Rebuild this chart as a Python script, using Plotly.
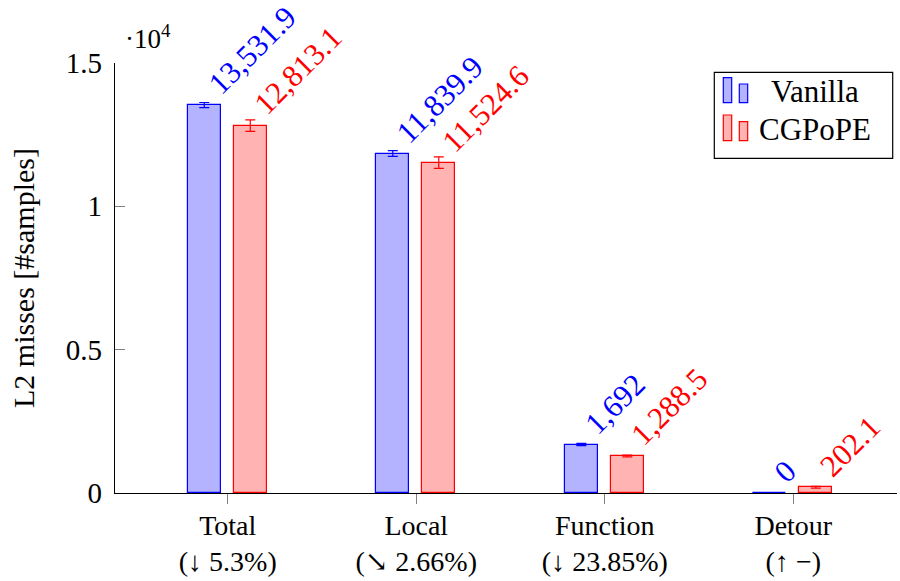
import plotly.graph_objects as go

categories = ["Total", "Local", "Function", "Detour"]
changes = ["(↓ 5.3%)", "(↘ 2.66%)", "(↓ 23.85%)", "(↑ −)"]
vanilla = [13531.9, 11839.9, 1692.0, 0.0]
vanilla_err = [90, 100, 40, 0]
cgpope = [12813.1, 11524.6, 1288.5, 202.1]
cgpope_err = [200, 200, 30, 30]
y_tickvals = [0, 5000, 10000, 15000]
y_ticktext = ["0", "0.5", "1", "1.5"]

FONT = "Liberation Serif, Times New Roman, DejaVu Serif, serif"
W, H = 900, 581
ML, MR, MT, MB = 115, 3, 63, 88
PW, PH = W - ML - MR, H - MT - MB

BAR_W = 0.175
series = [
    ("Vanilla", vanilla, vanilla_err, -0.212, "rgb(179,179,255)", "rgb(0,0,255)"),
    ("CGPoPE", cgpope, cgpope_err, 0.032, "rgb(255,179,179)", "rgb(255,0,0)"),
]


def fmt(v):
    if float(v).is_integer():
        return f"{int(v):,}"
    return f"{v:,.1f}"


fig = go.Figure()
idx = list(range(len(categories)))
annotations = []
for name, vals, errs, off, fill, edge in series:
    fig.add_trace(go.Bar(
        x=idx, y=vals, name=name, width=BAR_W, offset=off,
        marker=dict(color=fill, line=dict(color=edge, width=1.2)),
        error_y=dict(type="data", array=errs, color=edge, thickness=1.2, width=5),
        showlegend=False,
    ))
    for i, v in zip(idx, vals):
        annotations.append(dict(
            x=i + off + BAR_W / 2, y=v, xref="x", yref="y",
            text=fmt(v), textangle=-45, showarrow=False,
            xanchor="left", yanchor="bottom", xshift=-6, yshift=1,
            font=dict(family=FONT, size=31, color=edge),
        ))

# multiplier label
annotations.append(dict(
    x=8 / PW, y=(H - MB - 56) / PH, xref="paper", yref="paper",
    text="·10<sup>4</sup>", showarrow=False, xanchor="left", yanchor="bottom",
    font=dict(family=FONT, size=27, color="black"),
))


def px(x):
    return (x - ML) / PW


def py(y):
    return (H - MB - y) / PH


shapes = [dict(type="rect", xref="paper", yref="paper",
               x0=px(714.3), x1=px(892.7), y0=py(158.3), y1=py(72.3),
               line=dict(color="black", width=1.2), fillcolor="white", layer="above")]
legend_rows = [(series[0], 77.7, 84.0, 102.7, 92.0), (series[1], 115.0, 121.7, 140.7, 129.0)]
for (name, _, _, _, fill, edge), t1, t2, b, tc in legend_rows:
    shapes.append(dict(type="rect", xref="paper", yref="paper",
                       x0=px(723.3), x1=px(731.7), y0=py(b), y1=py(t1),
                       line=dict(color=edge, width=1.2), fillcolor=fill, layer="above"))
    shapes.append(dict(type="rect", xref="paper", yref="paper",
                       x0=px(739.3), x1=px(747.7), y0=py(b), y1=py(t2),
                       line=dict(color=edge, width=1.2), fillcolor=fill, layer="above"))
    annotations.append(dict(x=px(815), y=py(tc), xref="paper", yref="paper",
                            text=name, showarrow=False, xanchor="center", yanchor="middle",
                            font=dict(family=FONT, size=31, color="black")))

fig.update_layout(
    width=W, height=H,
    margin=dict(l=ML, r=MR, t=MT, b=MB, pad=0, autoexpand=False),
    paper_bgcolor="white", plot_bgcolor="white",
    font=dict(family=FONT, size=30, color="black"),
    xaxis=dict(
        range=[-0.598, 3.55], tickvals=idx,
        ticktext=[f"{c}<br>{ch}" for c, ch in zip(categories, changes)],
        showline=True, linecolor="black", linewidth=1.2,
        ticks="outside", ticklen=10, tickcolor="gray", tickwidth=1,
        showgrid=False, zeroline=False, automargin=False,
        ticklabelstandoff=-3,
        tickfont=dict(family=FONT, size=28, color="black"),
    ),
    yaxis=dict(
        range=[0, 15000], tickvals=y_tickvals, ticktext=y_ticktext,
        showline=True, linecolor="black", linewidth=1.2,
        ticks="inside", ticklen=10, tickcolor="gray", tickwidth=1,
        showgrid=False, zeroline=False, automargin=False,
        ticklabelstandoff=6,
        tickfont=dict(family=FONT, size=29, color="black"),
        title=dict(text="L2 misses [#samples]", font=dict(family=FONT, size=30, color="black"), standoff=22),
    ),
    annotations=annotations,
    shapes=shapes,
    bargap=0, barmode="overlay",
)

fig.write_html("out.html", config={"displayModeBar": False},
               post_script="document.body.style.margin='0px';")
